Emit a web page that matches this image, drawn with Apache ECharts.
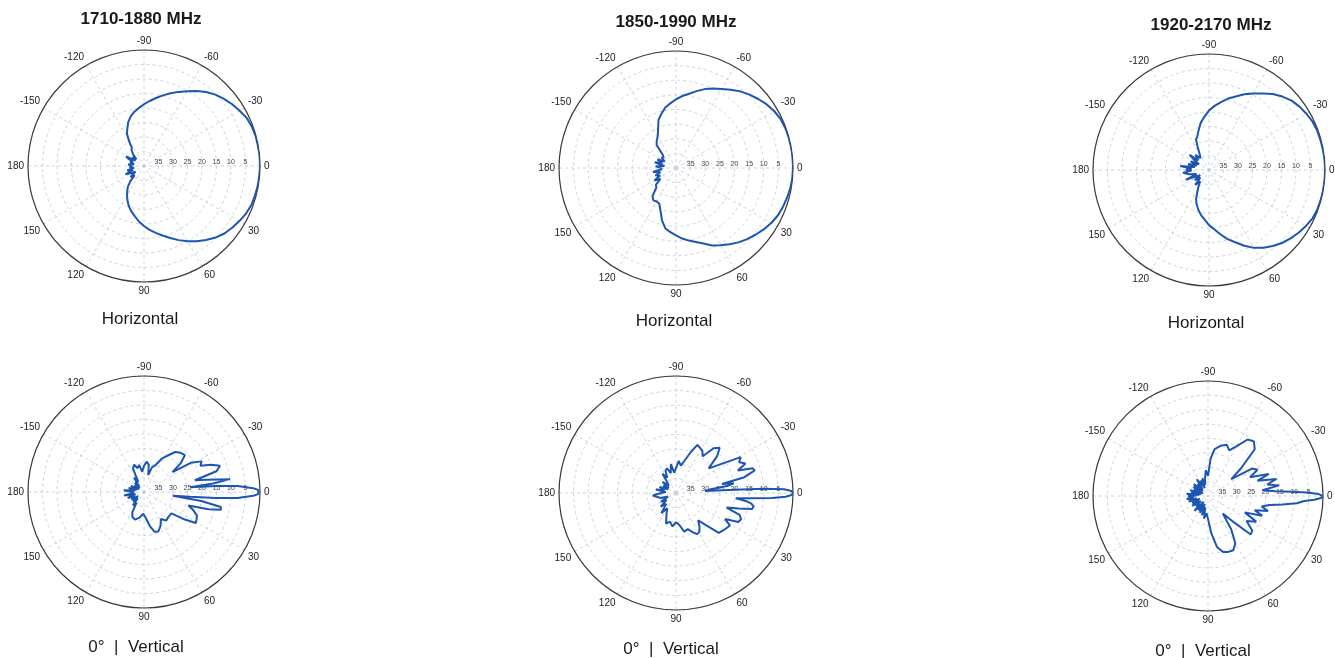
<!DOCTYPE html>
<html>
<head>
<meta charset="utf-8">
<script src="https://cdn.jsdelivr.net/npm/echarts@6/dist/echarts.min.js"></script>
<style>
html,body{margin:0;padding:0;background:#fff;}
#chart{width:1335px;height:658px;}
</style>
</head>
<body>
<div id="chart"></div>
<script>
// ---- DATA: [angle in degrees, attenuation in dB below peak] ----
const bandTitles = ['1710-1880 MHz', '1850-1990 MHz', '1920-2170 MHz'];
const hLabel = 'Horizontal';
const vLabel = '0°  |  Vertical';
const angleTicks = [0, 30, 60, 90, 120, 150, 180, -150, -120, -90, -60, -30];
const radiusTicks = [35, 30, 25, 20, 15, 10, 5];

const h1 = [[-180,36],[-175,34.5],[-170,36.5],[-165,35],[-160,36],[-155,34],[-152,33],[-148,36.5],[-143,35],[-138,36.5],[-133,34.5],[-128,33],[-124,32.5],[-121,30],[-118,27.5],[-115,26.3],[-110,24],[-105,22.3],[-100,21],[-95,19.9],[-90,18.7],[-85,17.5],[-80,16.2],[-75,14.8],[-70,13.3],[-65,11.8],[-60,10.2],[-55,8.4],[-50,6.7],[-45,5.2],[-40,4],[-35,2.9],[-30,1.9],[-25,0.9],[-20,0.4],[-15,0.15],[-10,0.1],[-5,0],[0,0],[5,0.1],[10,0.2],[15,0.4],[20,0.6],[25,1.2],[30,2],[35,2.9],[40,3.8],[45,5.1],[50,6.7],[55,8.3],[60,10],[65,11.8],[70,13.6],[75,15.2],[80,16.6],[85,17.9],[90,19.3],[95,20.7],[100,22.3],[105,23.6],[110,25],[115,26.6],[120,28.3],[125,30],[128,31],[132,33],[136,35.5],[141,34],[146,36.5],[151,35],[156,33],[160,36],[165,34],[170,36.5],[175,35],[180,36]];

const h2 = [[-180,35],[-175,33],[-170,36],[-165,32.5],[-160,35],[-155,33],[-150,35.5],[-145,34],[-140,34.5],[-135,33.5],[-130,29.7],[-125,28.5],[-120,27.5],[-115,25.5],[-110,22.5],[-105,20.8],[-100,19],[-95,17.8],[-90,16.5],[-85,15.3],[-80,14.2],[-75,12.8],[-70,11.3],[-65,10],[-60,8.8],[-55,7.3],[-50,5.8],[-45,4.5],[-40,3.3],[-35,2.1],[-30,1.2],[-25,0.5],[-20,0.2],[-15,0.1],[-10,0],[-5,0],[0,0],[5,0.1],[10,0.3],[15,0.7],[20,1.1],[25,1.6],[30,2.4],[35,3.4],[40,4.5],[45,5.6],[50,6.8],[55,8.2],[60,9.5],[65,10.8],[70,12.5],[75,13.8],[80,14.8],[85,15.8],[90,17],[95,18],[100,19],[105,21.5],[110,24.5],[115,26.5],[120,26.8],[125,26.5],[130,27.5],[135,30.5],[140,31],[145,33.5],[150,31.5],[155,34],[160,32.5],[165,34.5],[170,32],[175,35],[180,35]];

const h3 = [[-180,32],[-176,34],[-172,30],[-168,35],[-164,32.5],[-160,35.5],[-155,33],[-150,36],[-146,34],[-142,31.5],[-138,35],[-132,33],[-126,35],[-120,33.5],[-116,31],[-113,28.5],[-110,28],[-105,26],[-100,23.5],[-95,21.6],[-90,19.5],[-85,17.8],[-80,16.2],[-75,14.5],[-70,13],[-65,11.2],[-60,9.5],[-55,7.8],[-50,5.8],[-45,4.2],[-40,2.8],[-35,1.9],[-30,1.2],[-25,0.6],[-20,0.3],[-15,0.2],[-10,0.1],[-5,0],[0,0],[5,0],[10,0.05],[15,0.1],[20,0.25],[25,0.6],[30,1.4],[35,2.3],[40,3.3],[45,4.4],[50,5.8],[55,7.3],[60,9],[65,11.2],[70,13.5],[75,15.3],[80,17.5],[85,19.5],[90,21],[95,22.8],[100,24.2],[105,25.8],[110,27.5],[114,29],[118,31.5],[122,33],[128,35],[133,33],[138,36],[145,34],[150,36.5],[157,31.3],[162,35.5],[168,33],[174,31],[178,34],[180,32]];

const v1 = [[-180,36],[-175,33],[-170,37],[-165,34.5],[-160,37.5],[-155,35],[-150,38],[-145,36],[-140,38],[-135,35.5],[-130,37.5],[-125,34],[-120,36],[-115,31],[-110,30],[-105,31.5],[-100,30.5],[-95,33],[-90,31],[-85,29.5],[-80,30.5],[-76,34],[-72,31],[-67,30],[-62,27],[-57,25],[-52,22.5],[-47,21.5],[-42,21],[-38,24],[-35,28],[-32,21],[-28,17.5],[-25,18.5],[-22,15],[-19,12.3],[-16,14],[-13,22],[-11,18],[-8.5,10],[-7,16],[-6,24],[-4.8,15],[-3.7,7.7],[-2,2.3],[-1,0.6],[0,0],[1,0.6],[2,2.3],[3.7,7.7],[4.8,15],[6,24],[7.5,30],[9,20],[11,13],[13,12.8],[15,17],[17,24],[20,22],[24,20],[28,19.5],[31,19.2],[34,23],[38,28],[45,28],[52,27.5],[58,29],[64,27],[70,25.5],[75,25.8],[80,28],[86,31],[92,32.5],[100,31],[108,30],[115,30.5],[120,32],[125,35.5],[130,34],[135,37],[140,35],[145,37.5],[150,35],[155,36.5],[160,34],[165,37],[170,33],[175,36.5],[180,36]];

const v2 = [[-180,35],[-175,36.5],[-170,33],[-165,36],[-160,34],[-155,37],[-150,35],[-145,37],[-140,34],[-135,36.5],[-130,35.5],[-125,32],[-120,34],[-115,31.5],[-110,31],[-105,33],[-100,30],[-95,33],[-90,31.5],[-85,29],[-80,30.5],[-75,28.5],[-70,25],[-66,22],[-62,22.5],[-58,23],[-54,24.5],[-50,20],[-46,18.5],[-42,21],[-37,26],[-33,22],[-29,14.7],[-26,16],[-23,14.2],[-20,17.5],[-18,12.5],[-16,12],[-13,16],[-11,24],[-9.5,20],[-8,22],[-6,28],[-4,30],[-3.3,20],[-2.8,10],[-2,3],[-1,0.5],[0,0],[1,0.5],[2,2.5],[3,7],[4,14],[5,19.5],[6.5,16],[8,14],[10,13],[12,13.5],[14,18],[16,22],[19,17],[22,16],[25,16.5],[28,21],[31,18.5],[35,19],[39,19.5],[43,20],[47,25],[51,28],[55,26],[59,24.5],[63,24.2],[67,25.5],[72,27],[78,26.5],[84,29],[90,30],[96,28.5],[102,30],[108,29],[114,32],[120,34],[126,31.5],[132,35],[138,33],[144,36],[150,34],[156,37],[162,34.5],[168,35],[174,32],[180,35]];

const v3 = [[-180,33],[-177,36],[-174,32.5],[-171,37],[-168,34],[-165,37.5],[-162,33.5],[-159,36.5],[-156,34.5],[-152,38],[-148,34],[-144,37],[-140,33.5],[-136,37.5],[-132,34.5],[-128,37],[-124,33],[-120,36],[-116,34],[-112,37],[-108,33.5],[-104,36],[-100,34],[-95,31],[-90,33],[-86,27],[-82,23.5],[-76,22],[-70,21],[-65,22.5],[-60,20],[-55,16],[-50,15.2],[-45,17],[-40,25],[-36,30],[-32,22],[-28,20.5],[-24,24],[-20,17.5],[-17,22],[-14,15.5],[-11,19],[-8.5,15],[-6,21],[-4,16.5],[-3,11],[-2,5.6],[-1,1.5],[0,0],[1,0.7],[2,3],[3,6.5],[4.7,9],[6.5,14],[8.3,18.4],[11,21],[14,18.5],[17,23],[20,20],[24,26],[28,21],[33,24],[38,20.5],[42,20],[46,28],[50,32],[55,26],[60,21],[65,19.2],[70,19.3],[75,19.8],[80,22],[85,27],[90,32],[95,34],[100,32],[104,36],[108,33],[112,37],[116,33.5],[120,36.5],[124,34],[128,37.5],[132,33],[136,36],[140,34.5],[144,37],[148,33.5],[152,36.5],[156,34],[160,37],[164,33],[168,36],[172,32.5],[176,35],[180,33]];

const patterns = [h1, h2, h3, v1, v2, v3];

// ---- LAYOUT ----
const layout = [
  {c:[144,166], r:116}, {c:[676,168], r:117}, {c:[1209,170], r:116},
  {c:[144,492], r:116}, {c:[676,493], r:117}, {c:[1208,496], r:115}
];
const FONT = '"Liberation Sans", Arial, sans-serif';
const gridStyle = {color:'#bcc6d8', type:[3,3], width:0.8};
const lineColor = '#1d55b2';

const chart = echarts.init(document.getElementById('chart'), null, {renderer:'canvas'});

const option = {
  animation: false,
  backgroundColor: '#ffffff',
  polar: layout.map(p => ({center: p.c, radius: p.r})),
  angleAxis: layout.map((p, i) => ({
    polarIndex: i, type: 'value', min: 0, max: 360, interval: 30,
    startAngle: 0, clockwise: true,
    axisLine: {lineStyle: {color: '#3c3c3c', width: 1.2}},
    axisTick: {show: false},
    axisLabel: {
      margin: 4, fontSize: 10, color: '#222', fontFamily: FONT,
      formatter: v => {
        const a = v > 180 ? v - 360 : v;
        return (v === 360) ? '' : (angleTicks.indexOf(a) >= 0 ? String(a) : '');
      }
    },
    splitLine: {show: true, lineStyle: gridStyle}
  })),
  radiusAxis: layout.map((p, i) => ({
    polarIndex: i, type: 'value', min: 0, max: 40, interval: 5, inverse: true,
    axisLine: {show: false}, axisTick: {show: false},
    axisLabel: {
      margin: 0, fontSize: 7, color: '#444', fontFamily: FONT,
      formatter: v => radiusTicks.indexOf(v) >= 0 ? String(v) : ''
    },
    splitLine: {show: true, lineStyle: gridStyle}
  })),
  series: patterns.map((pat, i) => ({
    type: 'line', coordinateSystem: 'polar', polarIndex: i,
    showSymbol: false, symbol: 'none', clip: false, smooth: false,
    lineStyle: {color: lineColor, width: 2},
    data: pat.map(([a, db]) => [db, (a + 360) % 360])
  })),
  graphic: []
};

const textPos = [
  [bandTitles[0], 141, 19, 'bold 17px'], [bandTitles[1], 676, 22, 'bold 17px'], [bandTitles[2], 1211, 25, 'bold 17px'],
  [hLabel, 140, 319, '17px'], [hLabel, 674, 321, '17px'], [hLabel, 1206, 323, '17px'],
  [vLabel, 136, 647, '17px'], [vLabel, 671, 649, '17px'], [vLabel, 1203, 651, '17px']
];
option.graphic = textPos.map(([t, x, y, f]) => ({
  type: 'text', x: x, y: y, silent: true,
  style: {text: t, fill: '#1a1a1a', font: f + ' ' + FONT,
          textAlign: 'center', textVerticalAlign: 'middle', align: 'center', verticalAlign: 'middle'}
}));

chart.setOption(option);
</script>
</body>
</html>
